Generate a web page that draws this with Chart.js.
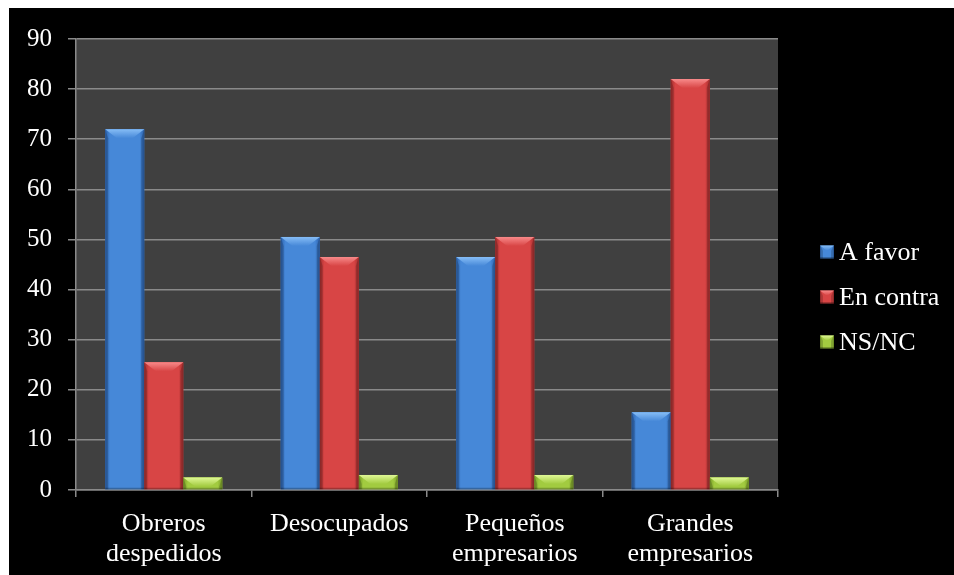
<!DOCTYPE html>
<html>
<head>
<meta charset="utf-8">
<script src="https://cdn.jsdelivr.net/npm/chart.js@4/dist/chart.umd.min.js"></script>
<style>
  html, body { margin: 0; padding: 0; background: #ffffff; }
  #wrap { position: absolute; left: 9px; top: 8px; width: 945px; height: 567px; background: #000000; }
  canvas { display: block; }
</style>
</head>
<body>
<div id="wrap"><canvas id="c" width="945" height="567"></canvas></div>
<script>
// Opinion by group (percent)
const categories = [
  ['Obreros', 'despedidos'],
  'Desocupados',
  ['Pequeños', 'empresarios'],
  ['Grandes', 'empresarios']
];
const seriesNames = ['A favor', 'En contra', 'NS/NC'];
const aFavor   = [72, 50.5, 46.5, 15.5];
const enContra = [25.5, 46.5, 50.5, 82];
const nsnc     = [2.5, 3, 3, 2.5];
const yTicks   = [0, 10, 20, 30, 40, 50, 60, 70, 80, 90];

// Shading palette per series: [edge, face, highlight]
const palettes = [
  ['#2c62ad', '#4688d8', '#86bdf6'],
  ['#a52e2e', '#d84545', '#f88a8a'],
  ['#7a9f28', '#a2cb40', '#e0f896']
];

const FONT = '"Liberation Serif", "Times New Roman", serif';
const GRID = '#8a8a8a';

// Paints the page background and the plot panel
const backdrop = {
  id: 'backdrop',
  beforeDraw(chart) {
    const { ctx, chartArea: a } = chart;
    ctx.save();
    ctx.fillStyle = '#000000';
    ctx.fillRect(0, 0, chart.width, chart.height);
    ctx.fillStyle = '#404040';
    ctx.fillRect(a.left, a.top, a.right - a.left, a.bottom - a.top);
    ctx.restore();
  }
};

// Gives each bar a bevelled, shaded look using the bar geometry from the chart
function paintBar(ctx, left, right, top, bottom, pal, bevelSize) {
  const w = right - left, h = bottom - top;
  if (h <= 0) return;
  const g = ctx.createLinearGradient(left, 0, right, 0);
  g.addColorStop(0, pal[0]);
  g.addColorStop(0.12, pal[1]);
  g.addColorStop(0.5, pal[1]);
  g.addColorStop(0.88, pal[1]);
  g.addColorStop(1, pal[0]);
  ctx.fillStyle = g;
  ctx.fillRect(left, top, w, h);

  const b = Math.min(bevelSize, h * 0.75);
  const s = Math.min(3, w / 4);
  // side faces
  ctx.fillStyle = 'rgba(0,0,0,0.18)';
  ctx.beginPath();
  ctx.moveTo(left, top); ctx.lineTo(left + s, top + b); ctx.lineTo(left + s, bottom); ctx.lineTo(left, bottom);
  ctx.closePath(); ctx.fill();
  ctx.beginPath();
  ctx.moveTo(right, top); ctx.lineTo(right - s, top + b); ctx.lineTo(right - s, bottom); ctx.lineTo(right, bottom);
  ctx.closePath(); ctx.fill();
  // top face
  const tg = ctx.createLinearGradient(0, top, 0, top + b);
  tg.addColorStop(0, pal[2]);
  tg.addColorStop(1, pal[1]);
  ctx.fillStyle = tg;
  ctx.beginPath();
  ctx.moveTo(left, top); ctx.lineTo(right, top); ctx.lineTo(right - b * 1.3, top + b); ctx.lineTo(left + b * 1.3, top + b);
  ctx.closePath(); ctx.fill();
  // thin lower shadow
  ctx.fillStyle = 'rgba(0,0,0,0.25)';
  ctx.fillRect(left, bottom - 1.5, w, 1.5);
}

const bevel = {
  id: 'bevel',
  afterDatasetsDraw(chart) {
    const ctx = chart.ctx;
    const a = chart.chartArea;
    ctx.save();
    ctx.beginPath();
    ctx.rect(a.left, a.top, a.right - a.left, a.bottom - a.top);
    ctx.clip();
    chart.data.datasets.forEach((ds, i) => {
      const meta = chart.getDatasetMeta(i);
      meta.data.forEach(bar => {
        const p = bar.getProps(['x', 'y', 'base', 'width'], true);
        paintBar(ctx, p.x - p.width / 2, p.x + p.width / 2, Math.min(p.y, p.base), Math.max(p.y, p.base), palettes[i], 9);
      });
    });
    ctx.restore();
  }
};

// Legend at the right with small bevelled keys
const sideLegend = {
  id: 'sideLegend',
  afterDraw(chart) {
    const ctx = chart.ctx;
    ctx.save();
    ctx.font = '26px ' + FONT;
    ctx.textBaseline = 'middle';
    ctx.textAlign = 'left';
    chart.data.datasets.forEach((ds, i) => {
      const cy = 244 + i * 45;
      const bx = 811, bw = 14, bh = 13;
      paintBar(ctx, bx, bx + bw, cy - bh / 2, cy + bh / 2, palettes[i], 5);
      ctx.fillStyle = '#ffffff';
      ctx.fillText(ds.label, bx + bw + 5, cy + 1);
    });
    ctx.restore();
  }
};

function draw() {
  new Chart(document.getElementById('c'), {
    type: 'bar',
    data: {
      labels: categories,
      datasets: [
        { label: seriesNames[0], data: aFavor,   backgroundColor: palettes[0][1] },
        { label: seriesNames[1], data: enContra, backgroundColor: palettes[1][1] },
        { label: seriesNames[2], data: nsnc,     backgroundColor: palettes[2][1] }
      ]
    },
    options: {
      responsive: false,
      animation: false,
      devicePixelRatio: 1,
      layout: { padding: { top: 29, right: 176, left: 0, bottom: 0 } },
      datasets: { bar: { categoryPercentage: 0.667, barPercentage: 1.0, borderWidth: 0 } },
      plugins: { legend: { display: false }, tooltip: { enabled: false } },
      scales: {
        x: {
          grid: { offset: true, drawOnChartArea: false, drawTicks: true, tickLength: 7, color: GRID, lineWidth: 1.5 },
          border: { display: true, color: GRID, width: 1.5 },
          ticks: {
            color: '#ffffff', padding: 13, maxRotation: 0, autoSkip: false,
            font: { family: FONT, size: 26, lineHeight: 1.12 }
          },
          afterFit(scale) { scale.height = 85; }
        },
        y: {
          min: yTicks[0], max: yTicks[yTicks.length - 1],
          afterBuildTicks(scale) { scale.ticks = yTicks.map(v => ({ value: v })); },
          grid: { color: GRID, lineWidth: 1.5, tickLength: 8 },
          border: { display: true, color: GRID, width: 1.5 },
          ticks: { color: '#ffffff', padding: 16, font: { family: FONT, size: 25 } },
          afterFit(scale) { scale.width = 67; }
        }
      }
    },
    plugins: [backdrop, bevel, sideLegend]
  });
}

document.fonts.load('26px "Liberation Serif"').then(draw, draw);
</script>
</body>
</html>
